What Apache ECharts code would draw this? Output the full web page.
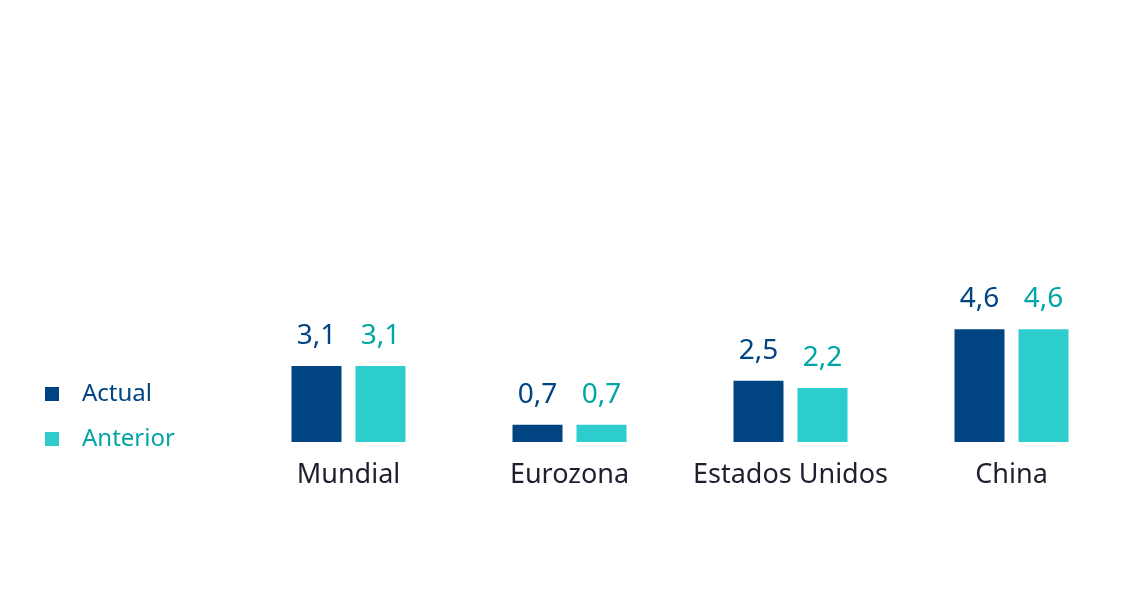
<!DOCTYPE html>
<html><head><meta charset="utf-8">
<script src="https://cdn.jsdelivr.net/npm/echarts@6/dist/echarts.min.js"></script>
<style>html,body{margin:0;padding:0;background:#fff}#c{width:1146px;height:594px}</style>
</head><body><div id="c"></div>
<script>
const categories = ['Mundial', 'Eurozona', 'Estados Unidos', 'China'];
const actual = [3.1, 0.7, 2.5, 4.6];
const anterior = [3.1, 0.7, 2.2, 4.6];
const seriesNames = ['Actual', 'Anterior'];

const fmt = p => String(p.value).replace('.', ',');
const chart = echarts.init(document.getElementById('c'));
chart.setOption({
  animation: false,
  textStyle: { fontFamily: 'Noto Sans' },
  legend: {
    orient: 'vertical', left: 45, top: 382, padding: 0,
    itemWidth: 14, itemHeight: 14, itemGap: 21,
    icon: 'rect',
    data: [
      { name: seriesNames[0], textStyle: { color: '#004481' } },
      { name: seriesNames[1], textStyle: { color: '#02A5A5' } }
    ],
    textStyle: { fontSize: 24, fontFamily: 'Noto Sans', padding: [0, 0, 0, 18] }
  },
  grid: { left: 238, right: 24, top: 197, bottom: 152 },
  xAxis: {
    type: 'category', data: categories,
    axisLine: { show: false }, axisTick: { show: false },
    axisLabel: { interval: 0, fontSize: 27, color: '#1f1f2e', margin: 20, fontFamily: 'Noto Sans' }
  },
  yAxis: { type: 'value', min: 0, max: 10, show: false, splitLine: { show: false } },
  series: [
    {
      name: seriesNames[0], type: 'bar', data: actual, barWidth: 50, barGap: '28%',
      itemStyle: { color: '#004481' },
      label: { show: true, position: 'top', distance: 16, fontSize: 28, color: '#004481', formatter: fmt, fontFamily: 'Noto Sans' }
    },
    {
      name: seriesNames[1], type: 'bar', data: anterior, barWidth: 50,
      itemStyle: { color: '#2DCCCD' },
      label: { show: true, position: 'top', distance: 16, fontSize: 28, color: '#02A5A5', formatter: fmt, fontFamily: 'Noto Sans' }
    }
  ]
});
</script></body></html>
